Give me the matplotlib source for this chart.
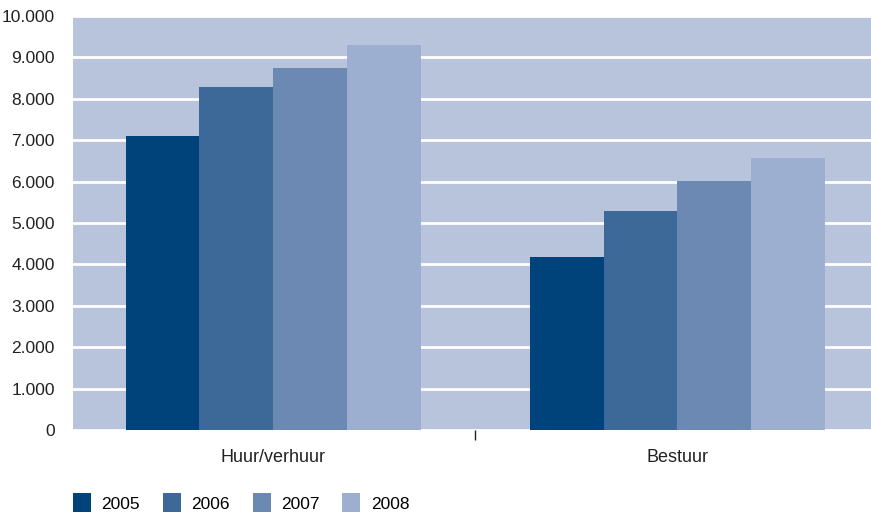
import matplotlib.pyplot as plt
import numpy as np
from matplotlib.patches import Patch

categories = ["Huur/verhuur", "Bestuur"]
years = ["2005", "2006", "2007", "2008"]
values = {
    "2005": [7100, 4180],
    "2006": [8290, 5290],
    "2007": [8750, 6010],
    "2008": [9300, 6570],
}
colors = ["#00437a", "#3d6999", "#6b89b3", "#9cafd0"]

plt.rcParams['font.family'] = ['Liberation Sans', 'DejaVu Sans']

fig = plt.figure(figsize=(8.71, 5.13), dpi=100)
ax = fig.add_axes([73 / 871, 1 - 430 / 513, 798 / 871, 414 / 513])
ax.set_facecolor("#b8c4dc")

x = np.arange(len(categories))
w = 0.183
for i, y in enumerate(years):
    ax.bar(x + (i - 1.5) * w, values[y], width=w, color=colors[i], zorder=3)

ax.set_ylim(0, 10000)
ax.set_xlim(-0.496, 1.479)
ax.set_yticks(np.arange(0, 10001, 1000))
ax.set_yticklabels(["0"] + [f"{v // 1000}.000" for v in range(1000, 10001, 1000)])
ax.yaxis.grid(True, color="white", linewidth=2, zorder=1)
ax.set_axisbelow(True)

ax.set_xticks(x)
ax.set_xticklabels(categories)
ax.set_xticks([0.5], minor=True)
ax.tick_params(axis="x", which="major", length=0, pad=14, labelsize=13, labelcolor="#222222")
ax.tick_params(axis="x", which="minor", length=7, width=1, color="#222222")
ax.tick_params(axis="y", length=0, pad=13, labelsize=12.5, labelcolor="#222222")
for s in ax.spines.values():
    s.set_visible(False)

handles = [Patch(facecolor=c, edgecolor="none") for c in colors]
fig.legend(handles, years, loc="lower left", bbox_to_anchor=(66 / 871, -0.012),
           ncol=4, frameon=False, fontsize=12.5, handlelength=1.05, handleheight=1.3,
           handletextpad=0.6, columnspacing=1.3, borderaxespad=0)

fig.savefig("out.png", dpi=100)
